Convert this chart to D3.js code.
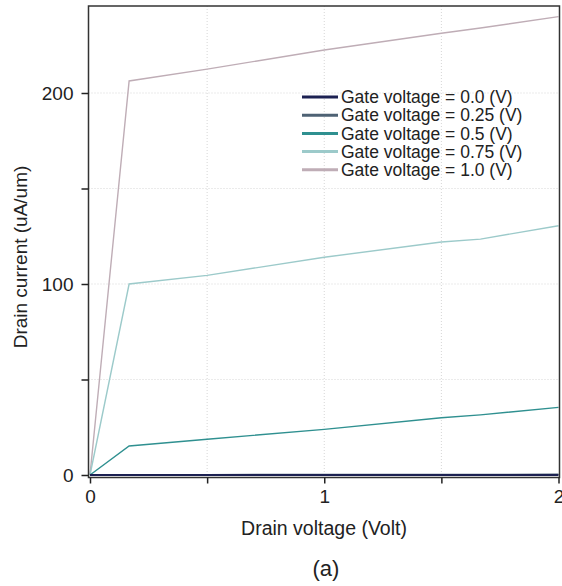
<!DOCTYPE html>
<html>
<head>
<meta charset="utf-8">
<script src="https://cdn.jsdelivr.net/npm/d3@7"></script>
<style>
  body { margin: 0; background: #fff; }
  svg text { font-family: "Liberation Sans", Arial, sans-serif; fill: #222; }
</style>
</head>
<body>
<div id="vis"></div>
<script>
// drain voltage sample points (Volt)
var drainV = [0, 0.167, 0.5, 1.0, 1.5, 1.667, 2.0];
// drain current (uA/um) per gate voltage
var gate00  = [0, 0, 0, 0, 0, 0, 0];
var gate025 = [0, 0.2, 0.2, 0.3, 0.3, 0.3, 0.4];
var gate05  = [0, 15.2, 18.7, 23.9, 30, 31.5, 35.4];
var gate075 = [0, 100, 104.5, 114, 122, 123.5, 130.5];
var gate10  = [0, 206.3, 212.5, 222.5, 231.3, 234, 240];
var seriesNames = ["Gate voltage = 0.0 (V)", "Gate voltage = 0.25 (V)", "Gate voltage = 0.5 (V)", "Gate voltage = 0.75 (V)", "Gate voltage = 1.0 (V)"];
var seriesColors = ["#1c2152", "#4e6274", "#2f9090", "#9ccaca", "#bfadb6"];
var xTicks = [0, 0.5, 1, 1.5, 2];
var yTicks = [0, 50, 100, 150, 200];
var xLabeled = [0, 1, 2];
var yLabeled = [0, 100, 200];

var W = 562, H = 586;
var box = {left: 88.5, right: 559.5, top: 6, bottom: 477.5};

var svg = d3.select("#vis").append("svg")
    .attr("width", W).attr("height", H);

var x = d3.scaleLinear().domain([0, 2]).range([90, 558.5]);
var y = d3.scaleLinear().domain([0, 200]).range([475, 93]);

// grid
svg.append("g").selectAll("line.gx")
    .data(xTicks.slice(1, 4)).enter().append("line")
    .attr("x1", function(d){ return x(d); }).attr("x2", function(d){ return x(d); })
    .attr("y1", box.top).attr("y2", box.bottom)
    .attr("stroke", "#d6d6d6").attr("stroke-dasharray", "1,2");
svg.append("g").selectAll("line.gy")
    .data(yTicks.slice(1)).enter().append("line")
    .attr("x1", box.left).attr("x2", box.right)
    .attr("y1", function(d){ return y(d); }).attr("y2", function(d){ return y(d); })
    .attr("stroke", "#d6d6d6").attr("stroke-dasharray", "1,2");

// curves
var allSeries = [gate00, gate025, gate05, gate075, gate10];
var line = d3.line()
    .x(function(d, i){ return x(drainV[i]); })
    .y(function(d){ return y(d); });

svg.append("g").selectAll("path")
    .data(allSeries.slice().reverse()).enter().append("path")
    .attr("d", line)
    .attr("fill", "none")
    .attr("stroke", function(d, i){ return seriesColors[4 - i]; })
    .attr("stroke-width", function(d, i){ return i == 4 ? 2 : 1.4; });

// frame
svg.append("rect")
    .attr("x", box.left).attr("y", box.top)
    .attr("width", box.right - box.left).attr("height", box.bottom - box.top)
    .attr("fill", "none").attr("stroke", "#333").attr("stroke-width", 1.5);

// axes
var xAxis = d3.axisBottom(x).tickValues(xTicks).tickSize(6).tickPadding(6)
    .tickFormat(function(d){ return xLabeled.indexOf(d) >= 0 ? d3.format("d")(d) : ""; });
var gx = svg.append("g").attr("transform", "translate(0," + box.bottom + ")").call(xAxis);
gx.select(".domain").remove();
gx.selectAll("line").attr("stroke", "#222").attr("stroke-width", 1.5);
gx.selectAll("text").style("font-size", "19px").attr("fill", "#222");

var yAxis = d3.axisLeft(y).tickValues(yTicks).tickSize(7).tickPadding(8)
    .tickFormat(function(d){ return yLabeled.indexOf(d) >= 0 ? d : ""; });
var gy = svg.append("g").attr("transform", "translate(" + box.left + ",0)").call(yAxis);
gy.select(".domain").remove();
gy.selectAll("line").attr("stroke", "#222").attr("stroke-width", 1.5);
gy.selectAll("text").style("font-size", "19px").attr("fill", "#222");

// axis titles
svg.append("text")
    .attr("x", 324).attr("y", 535)
    .attr("text-anchor", "middle")
    .style("font-size", "19.5px")
    .text("Drain voltage (Volt)");

svg.append("text")
    .attr("transform", "translate(20,257) rotate(-90)")
    .attr("text-anchor", "middle")
    .attr("dy", "0.35em")
    .style("font-size", "19px")
    .text("Drain current (uA/um)");

svg.append("text")
    .attr("x", 326).attr("y", 576)
    .attr("text-anchor", "middle")
    .style("font-size", "22px")
    .text("(a)");

// legend
var legend = svg.append("g").attr("transform", "translate(302,97)");
var rows = legend.selectAll("g")
    .data(seriesNames).enter().append("g")
    .attr("transform", function(d, i){ return "translate(0," + (i * 18.2) + ")"; });
rows.append("line")
    .attr("x1", 0).attr("x2", 36)
    .attr("stroke", function(d, i){ return seriesColors[i]; })
    .attr("stroke-width", 3);
rows.append("text")
    .attr("x", 39).attr("dy", "0.35em")
    .style("font-size", "17.5px")
    .text(function(d){ return d; });
</script>
</body>
</html>
